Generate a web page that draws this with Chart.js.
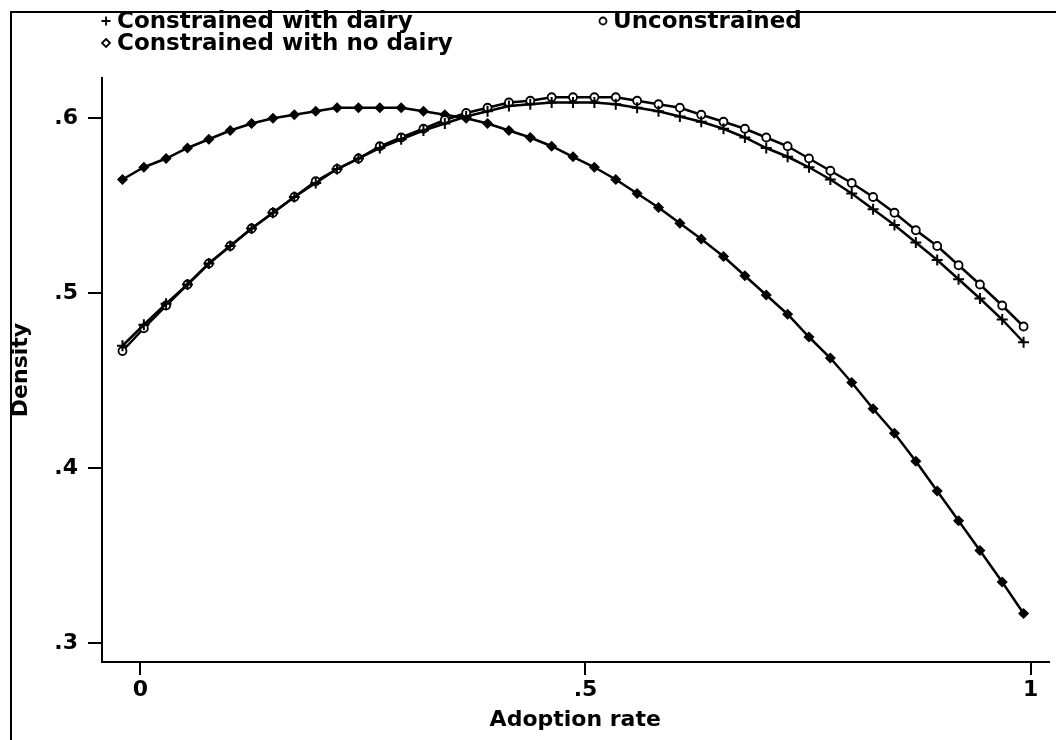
<!DOCTYPE html>
<html>
<head>
<meta charset="utf-8">
<script src="https://cdn.jsdelivr.net/npm/chart.js@4.4.0/dist/chart.umd.min.js"></script>
<style>
html,body{margin:0;padding:0;background:#fff;}
#wrap{position:absolute;left:0;top:0;width:1056px;height:740px;}
</style>
</head>
<body>
<div id="wrap"><canvas id="c" width="1056" height="740"></canvas></div>
<script>
// ---- data ----
const adoptionRate = [-0.020, 0.004, 0.029, 0.053, 0.077, 0.101, 0.125, 0.149, 0.173, 0.197,
  0.221, 0.245, 0.269, 0.293, 0.318, 0.342, 0.366, 0.390, 0.414, 0.438,
  0.462, 0.486, 0.510, 0.534, 0.558, 0.582, 0.606, 0.630, 0.655, 0.679,
  0.703, 0.727, 0.751, 0.775, 0.799, 0.823, 0.847, 0.871, 0.895, 0.919,
  0.943, 0.968, 0.992];

const constrainedWithDairy = [0.470, 0.482, 0.494, 0.505, 0.517, 0.527, 0.537, 0.546, 0.555, 0.563,
  0.571, 0.577, 0.583, 0.588, 0.593, 0.597, 0.601, 0.604, 0.607, 0.608,
  0.609, 0.609, 0.609, 0.608, 0.606, 0.604, 0.601, 0.598, 0.594, 0.589,
  0.583, 0.578, 0.572, 0.565, 0.557, 0.548, 0.539, 0.529, 0.519, 0.508,
  0.497, 0.485, 0.472];

const unconstrained = [0.467, 0.480, 0.493, 0.505, 0.517, 0.527, 0.537, 0.546, 0.555, 0.564,
  0.571, 0.577, 0.584, 0.589, 0.594, 0.599, 0.603, 0.606, 0.609, 0.610,
  0.612, 0.612, 0.612, 0.612, 0.610, 0.608, 0.606, 0.602, 0.598, 0.594,
  0.589, 0.584, 0.577, 0.570, 0.563, 0.555, 0.546, 0.536, 0.527, 0.516,
  0.505, 0.493, 0.481];

const constrainedNoDairy = [0.565, 0.572, 0.577, 0.583, 0.588, 0.593, 0.597, 0.600, 0.602, 0.604,
  0.606, 0.606, 0.606, 0.606, 0.604, 0.602, 0.600, 0.597, 0.593, 0.589,
  0.584, 0.578, 0.572, 0.565, 0.557, 0.549, 0.540, 0.531, 0.521, 0.510,
  0.499, 0.488, 0.475, 0.463, 0.449, 0.434, 0.420, 0.404, 0.387, 0.370,
  0.353, 0.335, 0.317];

const seriesNames = ['Constrained with dairy', 'Unconstrained', 'Constrained with no dairy'];
const xTickValues = [0, 0.5, 1];
const xTickLabels = ['0', '.5', '1'];
const yTickValues = [0.3, 0.4, 0.5, 0.6];
const yTickLabels = ['.3', '.4', '.5', '.6'];
const xTitle = 'Adoption rate';
const yTitle = 'Density';

// ---- chart ----
const FONT = '"DejaVu Sans", "Liberation Sans", sans-serif';
const pts = arr => arr.map((v, i) => ({x: adoptionRate[i], y: v}));

const framePlugin = {
  id: 'frame',
  beforeDraw(chart) {
    const ctx = chart.ctx;
    ctx.save();
    ctx.fillStyle = '#fff';
    ctx.fillRect(0, 0, chart.width, chart.height);
    ctx.strokeStyle = '#000';
    ctx.lineWidth = 2;
    ctx.beginPath();
    ctx.moveTo(1056, 12);
    ctx.lineTo(11, 12);
    ctx.lineTo(11, 740);
    ctx.stroke();
    ctx.restore();
  }
};

function drawMarker(ctx, style, x, y) {
  ctx.save();
  ctx.strokeStyle = '#000';
  ctx.fillStyle = '#fff';
  ctx.lineWidth = 1.8;
  ctx.beginPath();
  if (style === 'cross') {
    ctx.moveTo(x - 4.5, y); ctx.lineTo(x + 4.5, y);
    ctx.moveTo(x, y - 4.5); ctx.lineTo(x, y + 4.5);
    ctx.stroke();
  } else if (style === 'circle') {
    ctx.arc(x, y, 3.5, 0, Math.PI * 2);
    ctx.fill(); ctx.stroke();
  } else {
    ctx.moveTo(x, y - 4); ctx.lineTo(x + 4, y); ctx.lineTo(x, y + 4); ctx.lineTo(x - 4, y); ctx.closePath();
    ctx.fill(); ctx.stroke();
  }
  ctx.restore();
}

const legendPlugin = {
  id: 'customLegend',
  afterDraw(chart) {
    const ctx = chart.ctx;
    const items = [
      {label: seriesNames[0], style: 'cross', mx: 106, tx: 117, y: 21},
      {label: seriesNames[1], style: 'circle', mx: 603, tx: 613, y: 21},
      {label: seriesNames[2], style: 'rectRot', mx: 106, tx: 117, y: 43}
    ];
    ctx.save();
    ctx.font = 'bold 23px ' + FONT;
    ctx.fillStyle = '#000';
    ctx.textBaseline = 'middle';
    ctx.textAlign = 'left';
    items.forEach(it => {
      drawMarker(ctx, it.style, it.mx, it.y);
      ctx.fillText(it.label, it.tx, it.y + 1);
    });
    ctx.restore();
  }
};

const baseLine = {borderColor: '#000', borderWidth: 2.5, tension: 0, fill: false,
  pointBorderColor: '#000', pointBorderWidth: 1.8, pointBackgroundColor: '#fff'};

new Chart(document.getElementById('c'), {
  type: 'line',
  data: {
    datasets: [
      Object.assign({}, baseLine, {label: seriesNames[0], data: pts(constrainedWithDairy),
        pointStyle: 'cross', pointRadius: 5.5, pointBorderWidth: 2}),
      Object.assign({}, baseLine, {label: seriesNames[1], data: pts(unconstrained),
        pointStyle: 'circle', pointRadius: 4}),
      Object.assign({}, baseLine, {label: seriesNames[2], data: pts(constrainedNoDairy),
        pointStyle: 'rectRot', pointRadius: 4.5, pointBackgroundColor: '#000', pointBorderWidth: 1.5})
    ]
  },
  options: {
    responsive: false,
    animation: false,
    devicePixelRatio: 1,
    layout: {padding: {top: 78, right: 5, left: 0, bottom: 0}},
    plugins: {legend: {display: false}, tooltip: {enabled: false}},
    scales: {
      x: {
        type: 'linear', min: -0.043, max: 1.02,
        afterBuildTicks: s => { s.ticks = xTickValues.map(v => ({value: v})); },
        afterFit: s => { s.height = 78; },
        ticks: {
          callback: (v, i) => xTickLabels[i],
          font: {family: FONT, size: 22, weight: 'bold'}, color: '#000', padding: 2,
          maxRotation: 0, autoSkip: false
        },
        grid: {drawOnChartArea: false, drawTicks: true, tickLength: 13, color: '#000', lineWidth: 2},
        border: {display: true, color: '#000', width: 2},
        title: {display: true, text: xTitle, color: '#000',
          font: {family: FONT, size: 22, weight: 'bold', lineHeight: 1.2}, padding: {top: 0, bottom: 7}}
      },
      y: {
        type: 'linear', min: 0.2893, max: 0.623,
        afterBuildTicks: s => { s.ticks = yTickValues.map(v => ({value: v})); },
        afterFit: s => { s.width = 102; },
        ticks: {
          callback: (v, i) => yTickLabels[i],
          font: {family: FONT, size: 22, weight: 'bold'}, color: '#000', padding: 10, autoSkip: false
        },
        grid: {drawOnChartArea: false, drawTicks: true, tickLength: 14, color: '#000', lineWidth: 2},
        border: {display: true, color: '#000', width: 2},
        title: {display: true, text: yTitle, color: '#000',
          font: {family: FONT, size: 22, weight: 'bold', lineHeight: 1.2}, padding: {top: 8, bottom: 0}}
      }
    }
  },
  plugins: [framePlugin, legendPlugin]
});
</script>
</body>
</html>
